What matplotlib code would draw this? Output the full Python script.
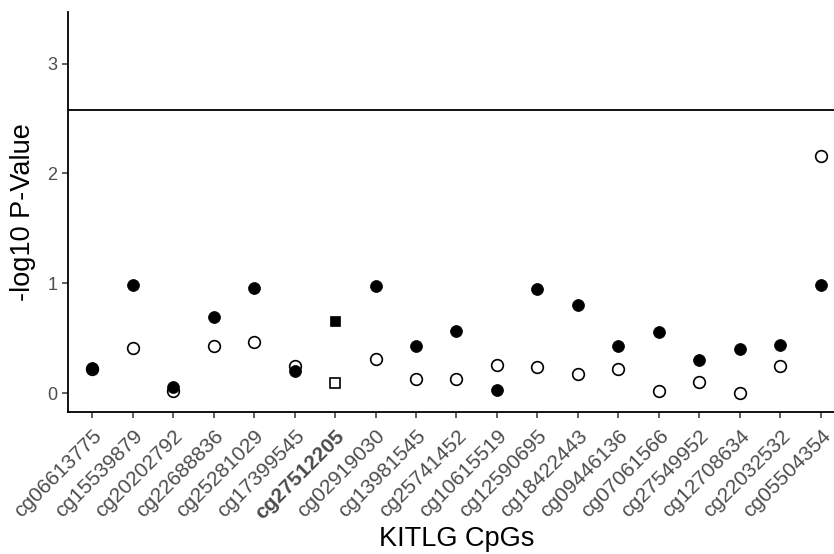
import matplotlib
matplotlib.use("Agg")
import matplotlib.pyplot as plt
import numpy as np

cpgs = ["cg06613775", "cg15539879", "cg20202792", "cg22688836", "cg25281029",
        "cg17399545", "cg27512205", "cg02919030", "cg13981545", "cg25741452",
        "cg10615519", "cg12590695", "cg18422443", "cg09446136", "cg07061566",
        "cg27549952", "cg12708634", "cg22032532", "cg05504354"]
filled_vals = [0.23, 0.99, 0.06, 0.69, 0.96, 0.20, 0.66, 0.975, 0.43, 0.57,
               0.03, 0.945, 0.805, 0.433, 0.557, 0.305, 0.40, 0.44, 0.99]
open_vals = [0.22, 0.41, 0.02, 0.43, 0.47, 0.25, 0.09, 0.315, 0.13, 0.13,
             0.257, 0.236, 0.175, 0.224, 0.018, 0.105, 0.003, 0.245, 2.155]
highlight = "cg27512205"
threshold = 2.58
yticks = [0, 1, 2, 3]

plt.rcParams['font.family'] = ['Liberation Sans', 'DejaVu Sans']

fig = plt.figure(figsize=(8.34, 5.54), dpi=100)
ax = fig.add_axes([68/834, (554-411.7)/554, (845-68)/834, (411.7-12.3)/554])

x = np.arange(len(cpgs))
is_hl = np.array([c == highlight for c in cpgs])
fv = np.array(filled_vals)
ov = np.array(open_vals)

ax.axhline(threshold, color='black', lw=1.3, zorder=1)

# open markers
ax.plot(x[~is_hl], ov[~is_hl], 'o', ms=8.4, mfc='white', mec='black', mew=1.2, ls='none', zorder=2)
ax.plot(x[is_hl], ov[is_hl], 's', ms=7.6, mfc='white', mec='black', mew=1.2, ls='none', zorder=2)
# filled markers
ax.plot(x[~is_hl], fv[~is_hl], 'o', ms=8.6, mfc='black', mec='black', mew=0.5, ls='none', zorder=3)
ax.plot(x[is_hl], fv[is_hl], 's', ms=7.6, mfc='black', mec='black', mew=0.5, ls='none', zorder=3)

ax.set_xlim(-0.6, 18.6)
ax.set_ylim(-0.167, 3.466)
ax.set_yticks(yticks)
ax.set_yticklabels([str(v) for v in yticks])
ax.set_xticks(x)
ax.set_xticklabels(cpgs, rotation=45, ha='right', va='top', rotation_mode='anchor')
for lbl in ax.get_xticklabels():
    if lbl.get_text() == highlight:
        lbl.set_fontweight('bold')

for s in ['top', 'right']:
    ax.spines[s].set_visible(False)
for s in ['left', 'bottom']:
    ax.spines[s].set_linewidth(1.3)
    ax.spines[s].set_color('black')

ax.tick_params(axis='both', length=4.5, width=1.1, color='#333333',
               labelcolor='#4D4D4D', labelsize=13)
ax.tick_params(axis='x', pad=6, labelsize=15)
ax.tick_params(axis='y', pad=3)

ax.set_xlabel('KITLG CpGs', fontsize=19.5, va='baseline')
ax.xaxis.set_label_coords(0.5, (8 - 142.3) / 399.4)
ax.set_ylabel('-log10 P-Value', fontsize=19.5, labelpad=8)

fig.savefig('out.png', dpi=100)
